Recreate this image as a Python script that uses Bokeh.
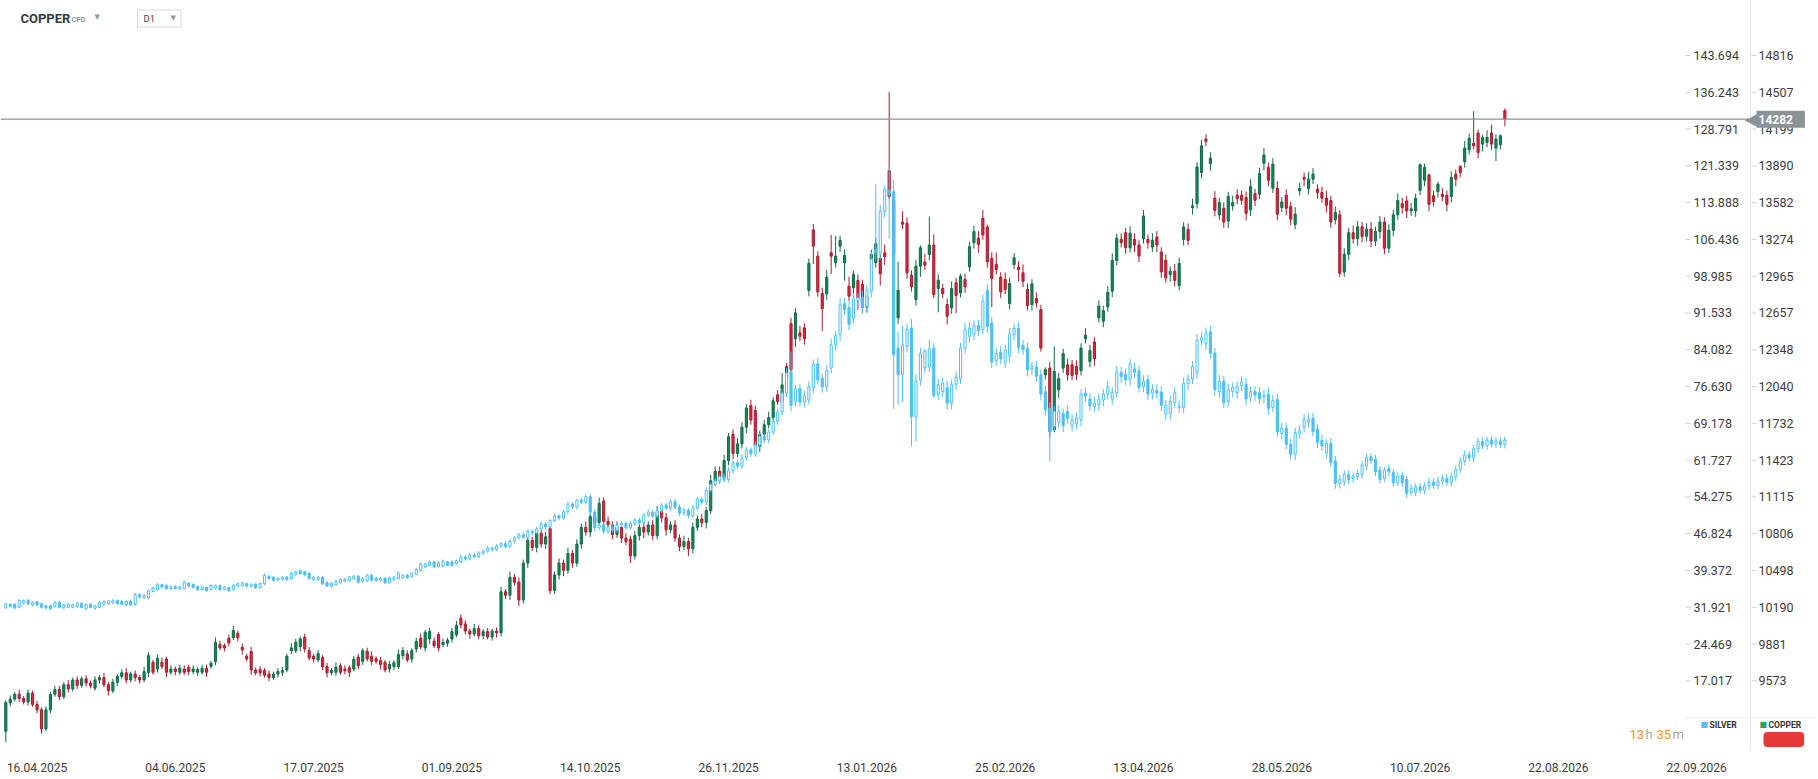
import numpy as np
from bokeh.plotting import figure
from bokeh.models import Range1d, FixedTicker, Span, Label, ColumnDataSource
from bokeh.core.properties import value
from bokeh.embed import file_html
from bokeh.resources import INLINE

# ---------------- data (daily bars) ----------------
SILVER_OPEN = [
    31.8, 32.5, 32.5, 31.9, 32.8, 33.3, 32.4, 33.0, 32.6, 32.2,
    32.2, 32.1, 32.9, 31.8, 31.9, 31.9, 32.1, 32.7, 31.6, 32.5,
    31.7, 31.9, 32.5, 32.6, 32.8, 33.3, 33.1, 32.4, 33.1, 32.5,
    34.5, 33.8, 33.8, 35.1, 35.5, 36.5, 36.3, 35.7, 36.1, 35.7,
    35.7, 36.8, 36.5, 36.1, 35.5, 35.9, 35.5, 35.8, 36.3, 35.5,
    35.9, 35.5, 36.2, 36.3, 36.7, 36.1, 36.6, 35.9, 36.7, 38.2,
    38.0, 37.4, 37.6, 38.0, 37.7, 38.6, 39.3, 39.1, 38.8, 37.5,
    37.5, 38.0, 36.9, 36.2, 36.5, 37.0, 37.2, 37.3, 37.7, 38.2,
    37.2, 37.3, 38.4, 37.8, 37.4, 37.8, 36.9, 37.5, 37.7, 37.9,
    38.4, 38.2, 38.6, 39.4, 40.1, 40.4, 41.1, 40.2, 40.3, 41.1,
    41.1, 40.7, 41.1, 42.1, 41.7, 42.5, 42.2, 42.9, 43.3, 43.9,
    43.6, 44.3, 44.8, 44.2, 45.3, 46.0, 46.6, 46.1, 47.3, 47.0,
    47.8, 48.8, 48.2, 49.5, 50.4, 50.0, 51.3, 52.8, 52.2, 53.6,
    53.2, 54.3, 51.2, 48.0, 48.6, 47.3, 48.2, 47.5, 48.6, 48.9,
    48.0, 48.9, 49.6, 49.0, 50.6, 51.2, 50.4, 51.5, 52.6, 52.0,
    53.3, 52.2, 51.0, 51.6, 50.5, 52.0, 53.8, 53.2, 55.6, 56.8,
    57.5, 58.4, 57.8, 59.6, 61.2, 60.5, 62.2, 63.8, 63.0, 64.8,
    66.5, 65.8, 67.4, 69.6, 71.5, 75.3, 79.7, 73.6, 76.2, 73.5,
    73.9, 76.3, 81.2, 78.3, 76.6, 80.4, 85.1, 87.1, 93.4, 92.6,
    90.5, 94.1, 94.7, 92.8, 95.9, 104.4, 103.7, 112.1, 116.4, 116.1,
    84.4, 79.0, 84.8, 88.5, 70.5, 78.0, 80.4, 80.6, 84.4, 75.1,
    75.6, 76.4, 73.3, 77.1, 78.2, 84.4, 86.8, 87.2, 89.0, 88.2,
    96.1, 89.5, 81.9, 83.6, 81.6, 82.9, 87.1, 88.4, 85.0, 84.3,
    80.2, 80.6, 79.0, 75.6, 72.2, 68.5, 69.4, 71.2, 71.6, 68.7,
    69.1, 69.9, 75.3, 74.1, 72.6, 72.9, 73.9, 75.1, 74.1, 75.4,
    79.5, 79.1, 78.1, 80.2, 79.8, 76.6, 78.0, 75.3, 75.8, 75.5,
    71.1, 71.1, 73.3, 72.4, 72.4, 77.2, 78.2, 79.4, 86.0, 85.3,
    87.7, 83.4, 75.6, 77.7, 73.6, 75.6, 75.4, 76.8, 77.1, 74.5,
    75.6, 75.4, 74.5, 75.1, 72.4, 74.0, 67.1, 68.2, 64.9, 62.9,
    67.1, 68.4, 69.4, 70.2, 68.0, 65.7, 63.2, 65.1, 61.6, 57.0,
    57.3, 58.8, 58.0, 58.4, 58.8, 60.5, 62.4, 61.9, 59.7, 58.0,
    60.0, 59.2, 57.1, 58.6, 57.8, 55.2, 55.2, 56.3, 55.6, 56.5,
    57.3, 56.6, 57.5, 58.0, 57.2, 58.4, 59.8, 61.5, 62.8, 62.2,
    64.0, 65.5, 64.6, 65.8, 65.0, 65.6, 64.9,
]
SILVER_CLOSE = [
    32.6, 32.1, 31.8, 33.3, 33.3, 32.6, 32.9, 32.4, 31.9, 31.8,
    31.6, 32.9, 31.9, 32.4, 32.5, 32.4, 32.8, 31.9, 32.5, 31.9,
    32.2, 32.9, 33.1, 33.2, 33.3, 32.7, 32.5, 33.1, 32.4, 34.5,
    34.0, 34.3, 35.3, 35.8, 36.5, 36.0, 35.7, 36.1, 35.7, 36.1,
    37.0, 36.2, 35.9, 35.5, 36.0, 35.3, 36.3, 36.3, 35.5, 36.0,
    35.3, 36.3, 36.7, 36.8, 36.2, 36.5, 35.9, 36.7, 38.4, 37.7,
    37.4, 37.8, 38.0, 37.5, 38.8, 39.1, 38.7, 38.5, 37.7, 38.0,
    38.0, 36.7, 36.2, 36.8, 37.2, 37.6, 37.6, 38.1, 38.2, 37.0,
    37.8, 38.4, 37.4, 37.3, 37.8, 36.9, 37.8, 38.0, 38.8, 38.4,
    37.9, 38.8, 39.6, 40.7, 40.7, 41.1, 40.1, 40.9, 41.3, 40.4,
    40.4, 41.4, 42.1, 41.7, 42.5, 42.2, 42.9, 43.3, 43.9, 43.6,
    44.3, 44.8, 44.2, 45.3, 46.0, 46.6, 46.1, 47.3, 47.0, 47.8,
    48.8, 48.2, 49.5, 50.4, 50.0, 51.3, 52.8, 52.2, 53.6, 53.2,
    54.3, 51.2, 48.0, 48.6, 47.3, 48.2, 47.5, 48.6, 48.9, 48.0,
    48.9, 49.6, 49.0, 50.6, 51.2, 50.4, 51.5, 52.6, 52.0, 53.3,
    52.2, 51.0, 51.6, 50.5, 52.0, 53.8, 53.2, 55.6, 56.8, 57.5,
    58.4, 57.8, 59.6, 61.2, 60.5, 62.2, 63.8, 63.0, 64.8, 66.5,
    65.8, 67.4, 69.6, 71.5, 75.3, 79.4, 72.8, 76.2, 73.5, 74.8,
    76.6, 81.2, 78.0, 76.6, 79.9, 85.1, 86.9, 93.2, 92.2, 89.2,
    94.4, 94.6, 92.7, 96.1, 102.4, 103.7, 112.2, 116.6, 115.6, 83.1,
    79.0, 85.1, 88.2, 70.5, 77.7, 83.3, 83.8, 84.3, 74.8, 77.0,
    77.3, 73.3, 77.1, 78.5, 84.4, 88.2, 88.5, 89.0, 87.9, 93.9,
    88.8, 81.6, 83.4, 82.2, 84.0, 87.3, 88.4, 84.6, 84.1, 80.0,
    80.7, 78.7, 75.1, 71.9, 67.5, 71.6, 71.6, 68.7, 70.2, 69.9,
    70.2, 75.1, 74.7, 72.7, 73.3, 74.1, 75.1, 76.6, 75.4, 79.5,
    78.6, 78.0, 81.2, 79.5, 76.4, 77.7, 75.1, 76.0, 75.3, 72.8,
    72.9, 73.6, 75.4, 72.7, 77.3, 78.2, 80.7, 86.0, 86.5, 87.5,
    83.3, 76.0, 77.7, 73.3, 76.0, 76.4, 76.6, 77.5, 74.1, 75.6,
    74.9, 74.1, 74.9, 72.2, 73.8, 67.5, 68.2, 64.9, 62.9, 67.3,
    67.7, 70.0, 70.0, 67.5, 65.3, 64.6, 65.1, 61.2, 57.0, 57.8,
    58.8, 57.8, 58.5, 59.0, 60.7, 62.2, 61.6, 59.4, 57.8, 59.7,
    59.4, 57.1, 58.5, 57.1, 55.0, 56.0, 56.3, 55.6, 56.5, 57.3,
    56.6, 57.5, 58.0, 57.2, 58.4, 59.8, 61.5, 62.8, 62.2, 64.0,
    65.5, 64.6, 65.8, 65.0, 65.6, 64.9, 65.8,
]
# wick lengths above / below the body, in tenths of a dollar
SILVER_WICK_UP = [
    2, 3, 2, 3, 2, 3, 2, 2, 3, 2,   3, 2, 3, 2, 3, 2, 2, 3, 2, 3,
    2, 3, 2, 2, 3, 2, 3, 2, 3, 3,   2, 3, 2, 3, 3, 2, 3, 2, 3, 2,
    3, 2, 3, 2, 3, 2, 3, 2, 2, 3,   2, 3, 2, 3, 2, 3, 2, 3, 4, 3,
    2, 3, 2, 3, 3, 2, 3, 2, 3, 2,   3, 2, 3, 2, 3, 2, 3, 2, 3, 3,
    2, 3, 3, 2, 3, 2, 3, 2, 3, 2,   3, 2, 3, 3, 2, 3, 2, 3, 3, 2,
    3, 2, 4, 3, 4, 3, 4, 3, 4, 3,   4, 3, 5, 4, 3, 4, 5, 3, 4, 4,
    5, 4, 3, 5, 4, 4, 5, 4, 3, 5,   4, 6, 5, 4, 5, 4, 5, 4, 5, 4,
    5, 4, 5, 4, 6, 5, 4, 5, 4, 5,   6, 5, 4, 5, 6, 5, 4, 6, 5, 6,
    5, 6, 7, 5, 6, 7, 6, 5, 7, 6,   7, 6, 8, 7, 9, 10, 40, 8, 9, 10,
    11, 9, 12, 10, 11, 12, 10, 14, 12, 13,   12, 10, 13, 11, 14, 132, 12, 7, 51, 24,
    34, 38, 12, 18, 14, 12, 5, 18, 11, 12,   12, 14, 10, 12, 11, 13, 12, 10, 12, 13,
    14, 12, 10, 13, 11, 12, 10, 13, 11, 12,   10, 12, 11, 13, 12, 11, 12, 10, 13, 11,
    12, 10, 11, 12, 13, 11, 10, 12, 11, 13,   11, 12, 10, 13, 11, 12, 10, 11, 13, 12,
    10, 12, 11, 13, 12, 10, 11, 13, 12, 11,   12, 10, 13, 11, 12, 10, 11, 12, 13, 10,
    11, 12, 10, 13, 11, 12, 10, 11, 12, 10,   11, 10, 12, 11, 10, 12, 9, 11, 10, 9,
    8, 9, 7, 8, 9, 8, 7, 9, 8, 7,   8, 7, 9, 8, 7, 8, 7, 8, 7, 9,
    7, 8, 7, 9, 8, 7, 8, 9, 7, 8,   7, 8, 7, 8, 7, 8, 7,
]
SILVER_WICK_DN = [
    2, 2, 3, 2, 3, 2, 3, 2, 2, 3,   2, 3, 2, 3, 2, 2, 3, 2, 3, 2,
    3, 2, 3, 2, 2, 3, 2, 3, 2, 3,   3, 2, 3, 2, 2, 3, 2, 3, 2, 3,
    2, 3, 2, 3, 2, 3, 2, 3, 3, 2,   3, 2, 3, 2, 3, 2, 3, 2, 3, 2,
    3, 2, 3, 2, 3, 3, 2, 3, 2, 3,   2, 3, 2, 3, 2, 3, 2, 3, 2, 3,
    3, 2, 3, 2, 3, 3, 2, 3, 2, 3,   2, 3, 2, 3, 3, 2, 3, 2, 3, 2,
    3, 3, 2, 4, 3, 4, 3, 4, 3, 4,   3, 4, 4, 3, 5, 4, 3, 4, 5, 3,
    4, 5, 4, 3, 5, 4, 5, 4, 5, 4,   5, 6, 8, 4, 5, 4, 5, 4, 5, 4,
    4, 5, 4, 5, 4, 5, 4, 5, 4, 5,   5, 6, 5, 6, 5, 4, 5, 6, 5, 4,
    6, 5, 6, 7, 5, 6, 5, 7, 6, 5,   6, 7, 6, 8, 7, 9, 12, 10, 9, 11,
    9, 11, 10, 12, 11, 10, 12, 13, 11, 12,   10, 12, 11, 13, 12, 14, 13, 12, 90, 110,
    60, 55, 13, 60, 50, 12, 11, 10, 5, 12,   11, 14, 13, 12, 10, 11, 13, 12, 11, 10,
    13, 12, 11, 10, 12, 13, 11, 12, 10, 13,   12, 11, 13, 12, 60, 11, 12, 13, 11, 12,
    11, 13, 12, 10, 11, 12, 13, 11, 12, 10,   12, 11, 13, 12, 10, 11, 12, 13, 11, 12,
    13, 12, 10, 11, 12, 13, 11, 12, 10, 12,   11, 13, 12, 10, 11, 12, 13, 11, 12, 10,
    12, 11, 13, 12, 10, 11, 12, 10, 11, 12,   10, 11, 12, 10, 11, 10, 12, 9, 11, 10,
    8, 9, 8, 7, 9, 8, 7, 9, 8, 7,   9, 8, 7, 8, 9, 7, 8, 7, 8, 9,
    7, 8, 9, 7, 8, 9, 7, 8, 7, 8,   8, 7, 8, 7, 8, 7, 8,
]

COPPER_OPEN = [
    9150, 9390, 9420, 9460, 9425, 9395, 9470, 9375, 9330, 9170,
    9330, 9460, 9500, 9440, 9540, 9505, 9580, 9535, 9590, 9555,
    9510, 9580, 9600, 9540, 9490, 9560, 9610, 9640, 9580, 9630,
    9600, 9580, 9644, 9728, 9672, 9728, 9756, 9644, 9672, 9644,
    9672, 9686, 9650, 9644, 9644, 9678, 9695, 9734, 9877, 9868,
    9930, 9935, 9972, 9854, 9779, 9818, 9664, 9666, 9660, 9630,
    9600, 9630, 9644, 9664, 9826, 9826, 9860, 9938, 9826, 9779,
    9748, 9767, 9692, 9640, 9644, 9700, 9672, 9683, 9672, 9770,
    9736, 9821, 9779, 9759, 9742, 9728, 9672, 9692, 9692, 9784,
    9798, 9756, 9840, 9930, 9849, 9924, 9905, 9961, 9877, 9888,
    9924, 9958, 10098, 10050, 9990, 9965, 10010, 9950, 9985, 9940,
    9990, 9975, 10320, 10290, 10440, 10400, 10250, 10560, 10750, 10690,
    10810, 10720, 10850, 10330, 10460, 10560, 10500, 10640, 10560, 10720,
    10860, 10820, 10950, 10900, 11080, 10910, 10880, 10800, 10860, 10770,
    10760, 10620, 10790, 10860, 10820, 10880, 10790, 10990, 10940, 10840,
    10880, 10770, 10700, 10740, 10680, 10860, 10930, 10900, 11000, 11250,
    11330, 11280, 11420, 11640, 11480, 11560, 11700, 11880, 11840, 11540,
    11640, 11720, 11780, 11971, 11915, 12209, 12568, 12442, 12490, 12532,
    12846, 13353, 13134, 12820, 12817, 13162, 13078, 13218, 13078, 12882,
    12868, 12930, 12896, 12705, 13115, 13078, 13115, 13162, 13849, 13600,
    12616, 13420, 13409, 12974, 12770, 13050, 13084, 13148, 13227, 12862,
    12862, 12728, 12700, 12910, 12826, 12938, 13044, 13246, 13283, 13451,
    13378, 13115, 13064, 12958, 12938, 12736, 13064, 13042, 12994, 12854,
    12728, 12778, 12686, 12139, 12195, 11677, 12013, 12195, 12223, 12223,
    12209, 12173, 12442, 12251, 12414, 12616, 12588, 12708, 12840, 13098,
    13274, 13330, 13204, 13274, 13227, 13280, 13274, 13210, 13294, 13168,
    13098, 12980, 13008, 12887, 13274, 13358, 13541, 13574, 13835, 14115,
    13911, 13619, 13479, 13535, 13429, 13555, 13644, 13644, 13625, 13521,
    13658, 13653, 13913, 13877, 13703, 13703, 13541, 13644, 13549, 13400,
    13681, 13793, 13700, 13779, 13695, 13667, 13620, 13600, 13440, 13480,
    13000, 13150, 13330, 13280, 13380, 13300, 13360, 13260, 13340, 13420,
    13200, 13350, 13480, 13574, 13597, 13513, 13513, 13686, 13770, 13815,
    13639, 13675, 13653, 13644, 13633, 13821, 13885, 13925, 14026, 14079,
    14166, 14073, 14087, 14166, 14040, 14068, 14353,
]
COPPER_CLOSE = [
    9390, 9420, 9460, 9425, 9395, 9470, 9375, 9330, 9170, 9330,
    9460, 9500, 9440, 9540, 9505, 9580, 9535, 9590, 9555, 9530,
    9580, 9600, 9540, 9490, 9560, 9610, 9640, 9580, 9630, 9600,
    9580, 9650, 9784, 9644, 9762, 9692, 9644, 9672, 9650, 9678,
    9644, 9650, 9672, 9667, 9678, 9644, 9720, 9896, 9849, 9849,
    9891, 9994, 9933, 9832, 9756, 9664, 9640, 9640, 9620, 9600,
    9630, 9650, 9658, 9779, 9849, 9896, 9924, 9840, 9765, 9756,
    9801, 9692, 9640, 9660, 9686, 9644, 9658, 9644, 9753, 9700,
    9826, 9756, 9736, 9736, 9709, 9664, 9711, 9725, 9793, 9826,
    9748, 9826, 9902, 9857, 9980, 9986, 9868, 9849, 9896, 9913,
    9986, 10036, 10042, 9990, 9965, 10010, 9950, 9985, 9940, 9990,
    9975, 10320, 10290, 10440, 10400, 10250, 10560, 10750, 10690, 10810,
    10720, 10780, 10330, 10460, 10560, 10500, 10640, 10560, 10720, 10860,
    10820, 10950, 10900, 11060, 10910, 10880, 10800, 10860, 10770, 10740,
    10620, 10790, 10860, 10820, 10880, 10790, 10990, 10940, 10840, 10880,
    10770, 10700, 10740, 10680, 10860, 10930, 10900, 11000, 11250, 11330,
    11280, 11420, 11620, 11480, 11560, 11700, 11860, 11760, 11540, 11640,
    11720, 11780, 11920, 11915, 12055, 12111, 12181, 12658, 12462, 12442,
    13073, 13218, 12834, 12694, 12958, 13134, 13134, 13266, 13140, 12798,
    12980, 12784, 12705, 12800, 13148, 13238, 12986, 13129, 13633, 13150,
    12846, 13401, 12994, 12876, 13050, 13204, 13058, 13227, 12812, 12932,
    12820, 12630, 12862, 12803, 12966, 12876, 13213, 13339, 13232, 13311,
    13087, 12946, 13022, 12834, 12854, 12904, 13120, 13022, 12924, 12719,
    12901, 12742, 12363, 12181, 11663, 12167, 12106, 12316, 12139, 12133,
    12144, 12363, 12470, 12341, 12274, 12714, 12677, 12831, 13098, 13283,
    13246, 13204, 13325, 13227, 13134, 13471, 13246, 13266, 13227, 13002,
    12952, 13008, 12930, 13072, 13378, 13266, 13555, 13882, 14059, 14096,
    13955, 13518, 13583, 13420, 13633, 13583, 13616, 13602, 13493, 13717,
    13602, 13826, 13981, 13770, 13905, 13485, 13588, 13535, 13443, 13485,
    13700, 13779, 13779, 13821, 13667, 13620, 13560, 13420, 13500, 12990,
    13150, 13330, 13280, 13380, 13300, 13360, 13260, 13340, 13420, 13200,
    13350, 13480, 13600, 13541, 13513, 13530, 13619, 13900, 13877, 13569,
    13591, 13737, 13633, 13569, 13793, 13779, 13835, 14040, 14121, 14059,
    14003, 14129, 14129, 14073, 14115, 14143, 14282,
]
# wick lengths above / below the body, in units of 10 USD
COPPER_WICK_UP = [
    2, 3, 2, 4, 2, 3, 2, 3, 2, 3,   2, 3, 3, 2, 4, 2, 3, 2, 3, 2,
    3, 2, 4, 2, 3, 2, 3, 4, 2, 3,   2, 4, 3, 2, 3, 4, 2, 3, 2, 3,
    3, 2, 3, 2, 3, 3, 2, 4, 3, 2,   3, 4, 2, 3, 2, 4, 2, 3, 2, 3,
    2, 3, 3, 2, 4, 3, 2, 3, 3, 2,   3, 2, 3, 2, 4, 2, 3, 2, 3, 3,
    2, 3, 4, 2, 3, 2, 3, 2, 4, 3,   3, 2, 3, 4, 2, 3, 3, 2, 3, 2,
    3, 4, 3, 3, 2, 4, 3, 2, 3, 2,   3, 4, 2, 5, 3, 4, 3, 5, 3, 4,
    3, 4, 5, 3, 4, 3, 5, 3, 4, 3,   5, 3, 4, 5, 3, 4, 3, 5, 3, 4,
    3, 4, 3, 5, 3, 4, 5, 3, 4, 3,   4, 3, 5, 3, 4, 3, 4, 3, 5, 4,
    4, 5, 3, 4, 5, 4, 3, 5, 4, 3,   4, 5, 3, 4, 10, 3, 5, 4, 6, 4,
    4, 5, 4, 5, 6, 15, 17, 4, 5, 8,   3, 5, 4, 5, 4, 5, 4, 7, 66, 6,
    24, 9, 5, 4, 5, 2, 7, 24, 9, 5,   4, 5, 6, 4, 2, 5, 4, 5, 6, 7,
    2, 5, 10, 4, 6, 5, 4, 5, 7, 5,   4, 5, 4, 2, 5, 21, 5, 4, 5, 4,
    5, 4, 6, 5, 4, 5, 4, 5, 6, 4,   5, 4, 6, 5, 4, 5, 4, 6, 5, 4,
    5, 4, 6, 5, 4, 5, 6, 4, 5, 4,   5, 6, 4, 5, 4, 6, 5, 4, 5, 6,
    4, 5, 6, 4, 5, 6, 4, 5, 4, 6,   5, 4, 6, 5, 4, 5, 6, 4, 5, 4,
    5, 4, 6, 5, 4, 5, 6, 4, 5, 4,   5, 4, 6, 5, 4, 5, 4, 1, 3, 1,
    4, 2, 5, 4, 5, 4, 1, 6, 4, 27,   3, 2, 6, 7, 4, 1, 2,
]
COPPER_WICK_DN = [
    9, 3, 2, 3, 2, 3, 2, 3, 4, 2,   3, 2, 3, 2, 3, 2, 3, 2, 3, 2,
    2, 3, 2, 4, 2, 3, 2, 3, 2, 3,   3, 2, 4, 2, 3, 2, 4, 2, 3, 2,
    2, 3, 2, 3, 2, 4, 2, 3, 2, 3,   3, 2, 3, 4, 2, 4, 2, 3, 2, 3,
    2, 3, 3, 2, 3, 2, 4, 3, 2, 3,   2, 3, 4, 2, 3, 2, 3, 4, 2, 3,
    3, 2, 3, 2, 4, 2, 3, 3, 2, 3,   2, 3, 3, 2, 3, 4, 2, 3, 2, 3,
    3, 2, 3, 3, 4, 2, 3, 3, 2, 3,   4, 3, 3, 4, 3, 5, 3, 4, 3, 4,
    3, 4, 3, 3, 4, 5, 3, 4, 3, 4,   3, 4, 3, 4, 5, 3, 4, 3, 4, 3,
    6, 3, 4, 5, 3, 4, 3, 4, 5, 3,   3, 4, 3, 6, 4, 3, 4, 5, 3, 4,
    5, 3, 4, 5, 3, 4, 5, 4, 3, 5,   4, 3, 5, 3, 4, 8, 4, 7, 4, 5,
    5, 15, 4, 19, 5, 15, 4, 5, 15, 4,   6, 10, 5, 4, 5, 4, 10, 7, 2, 5,
    5, 4, 5, 4, 5, 9, 4, 5, 3, 20,   4, 7, 5, 15, 4, 5, 4, 5, 7, 4,
    5, 24, 4, 5, 4, 5, 4, 10, 5, 4,   5, 4, 3, 4, 5, 2, 7, 4, 5, 4,
    5, 4, 4, 5, 6, 4, 5, 4, 5, 4,   4, 5, 4, 6, 5, 4, 5, 4, 6, 5,
    4, 6, 5, 4, 5, 4, 6, 4, 5, 4,   6, 5, 4, 5, 6, 4, 5, 4, 6, 5,
    5, 4, 6, 5, 4, 5, 4, 6, 5, 4,   4, 6, 5, 4, 5, 4, 6, 5, 4, 3,
    4, 5, 4, 6, 5, 4, 5, 4, 6, 5,   4, 5, 4, 5, 6, 4, 5, 4, 5, 6,
    4, 5, 4, 6, 5, 6, 4, 5, 4, 3,   5, 6, 4, 5, 11, 4, 6,
]

SILVER_TICK_LABELS = ["143.694", "136.243", "128.791", "121.339", "113.888", "106.436",
                      "98.985", "91.533", "84.082", "76.630", "69.178", "61.727",
                      "54.275", "46.824", "39.372", "31.921", "24.469", "17.017"]
COPPER_TICK_LABELS = ["14816", "14507", "14199", "13890", "13582", "13274", "12965",
                      "12657", "12348", "12040", "11732", "11423", "11115", "10806",
                      "10498", "10190", "9881", "9573"]
DATE_LABELS = ["16.04.2025", "04.06.2025", "17.07.2025", "01.09.2025", "14.10.2025",
               "26.11.2025", "13.01.2026", "25.02.2026", "13.04.2026", "28.05.2026",
               "10.07.2026", "22.08.2026", "22.09.2026"]
LAST_PRICE = 14282
INSTRUMENT = "COPPER"
SERIES_NAMES = ["SILVER", "COPPER"]

# ---------------- layout (page pixels) ----------------
W, H = 1816, 778
FRAME_BOTTOM = 750
BAR0_PX = 5.3
BAR_PX = 4.4615
TICK_TOP_PX = 55.0
TICK_BOTTOM_PX = 680.3
SCALE_EDGE_PX = 1750
DATE_BARS = [7 + 31 * k for k in range(len(DATE_LABELS))]   # one label every 31 bars

SILVER_C = "#4dc0f5"
UP_FILL, UP_LINE = "#16875a", "#0e6a45"
DN_FILL, DN_LINE = "#e0283c", "#a21c2c"
PRICE_GREY = "#8a9397"
TXT = "#3c3c3c"

s_ticks = [float(t) for t in SILVER_TICK_LABELS]
c_ticks = [int(t) for t in COPPER_TICK_LABELS]
per_px = (s_ticks[0] - s_ticks[-1]) / (TICK_BOTTOM_PX - TICK_TOP_PX)
s_end = s_ticks[0] + TICK_TOP_PX * per_px
s_start = s_ticks[0] - (FRAME_BOTTOM - TICK_TOP_PX) * per_px
ka = (c_ticks[0] - c_ticks[-1]) / (s_ticks[0] - s_ticks[-1])
kb = c_ticks[0] - ka * s_ticks[0]
c_start, c_end = ka * s_start + kb, ka * s_end + kb
x_start = -BAR0_PX / BAR_PX
x_end = (W - BAR0_PX) / BAR_PX


def px_x(px):
    return (px - BAR0_PX) / BAR_PX


def px_y(py):
    return s_end - py * per_px


N = min(len(SILVER_OPEN), len(SILVER_CLOSE), len(SILVER_WICK_UP), len(SILVER_WICK_DN),
        len(COPPER_OPEN), len(COPPER_CLOSE), len(COPPER_WICK_UP), len(COPPER_WICK_DN))
idx = np.arange(N)


def candles(o, c, wu, wd, unit):
    o = np.asarray(o[:N], float)
    c = np.asarray(c[:N], float)
    top = np.maximum(o, c)
    bot = np.minimum(o, c)
    hi = top + np.asarray(wu[:N], float) * unit
    lo = bot - np.asarray(wd[:N], float) * unit
    return top, bot, hi, lo, c >= o


p = figure(width=W, height=H, x_range=Range1d(x_start, x_end), y_range=Range1d(s_start, s_end),
           output_backend="svg", toolbar_location=None, tools="", y_axis_location=None,
           min_border_left=0, min_border_top=0, min_border_right=0,
           min_border_bottom=H - FRAME_BOTTOM, outline_line_color=None,
           background_fill_color="white", border_fill_color="white")
p.grid.visible = False
p.extra_y_ranges = {"copper": Range1d(c_start, c_end)}

# x axis (dates)
xa = p.xaxis[0]
xa.ticker = FixedTicker(ticks=DATE_BARS)
xa.major_label_overrides = {b: l for b, l in zip(DATE_BARS, DATE_LABELS)}
xa.axis_line_color = None
xa.major_tick_line_color = None
xa.minor_tick_line_color = None
xa.major_label_standoff = 6
xa.major_label_text_font = "Roboto"
xa.major_label_text_font_size = "12px"
xa.major_label_text_color = TXT

# separator of the price-scale column and of the legend strip
p.add_layout(Span(location=px_x(SCALE_EDGE_PX), dimension="height",
                  line_color="#e6e6e6", line_width=1))
p.segment(x0=[px_x(1683)], y0=[px_y(717)], x1=[px_x(W)], y1=[px_y(717)],
          line_color="#f0f0f0", line_width=1)

# copper candles
ct, cb, ch, cl, cup = candles(COPPER_OPEN, COPPER_CLOSE, COPPER_WICK_UP, COPPER_WICK_DN, 10.0)
csrc = ColumnDataSource(dict(x=idx, top=ct, bottom=cb, hi=ch, lo=cl,
                             fill=[UP_FILL if u else DN_FILL for u in cup],
                             line=[UP_LINE if u else DN_LINE for u in cup]))
p.segment(x0="x", y0="hi", x1="x", y1="lo", line_color="line", line_width=1,
          source=csrc, y_range_name="copper")
p.vbar(x="x", top="top", bottom="bottom", width=0.48, fill_color="fill", line_color="line",
       line_width=1, source=csrc, y_range_name="copper")

# silver candles (hollow when rising)
st, sb, sh, sl, sup = candles(SILVER_OPEN, SILVER_CLOSE, SILVER_WICK_UP, SILVER_WICK_DN, 0.1)
ssrc = ColumnDataSource(dict(x=idx, top=st, bottom=sb, hi=sh, lo=sl,
                             fill=["white" if u else SILVER_C for u in sup]))
p.segment(x0="x", y0="hi", x1="x", y1="lo", line_color=SILVER_C, line_width=1, source=ssrc)
p.vbar(x="x", top="top", bottom="bottom", width=0.48, fill_color="fill", line_color=SILVER_C,
       line_width=1, source=ssrc)

# price scales: silver (inner column) and copper (outer column)
ns = len(s_ticks)
p.text(x=[px_x(1693)] * ns, y=s_ticks, text=SILVER_TICK_LABELS,
       text_font=value("Roboto"), text_font_size="12.5px", text_color=TXT,
       text_baseline="middle", text_align="left")
p.segment(x0=[px_x(1685)] * ns, y0=s_ticks, x1=[px_x(1690)] * ns, y1=s_ticks,
          line_color="#d2d2d2", line_width=1)
nc = len(c_ticks)
p.text(x=[px_x(1758)] * nc, y=c_ticks, text=COPPER_TICK_LABELS, y_range_name="copper",
       text_font=value("Roboto"), text_font_size="12.5px", text_color=TXT,
       text_baseline="middle", text_align="left")
p.segment(x0=[px_x(1751)] * nc, y0=c_ticks, x1=[px_x(1756)] * nc, y1=c_ticks,
          y_range_name="copper", line_color="#d2d2d2", line_width=1)

# last price line and tag
p.segment(x0=[x_start], y0=[LAST_PRICE], x1=[px_x(1748)], y1=[LAST_PRICE],
          y_range_name="copper", line_color=PRICE_GREY, line_width=1.3)
p.add_layout(Label(x=px_x(1757), y=LAST_PRICE, y_range_name="copper", text="\u25c0",
                   text_font="DejaVu Sans", text_font_size="17px", text_color=PRICE_GREY,
                   text_baseline="middle", text_align="right"))
p.add_layout(Label(x=px_x(1756), y=LAST_PRICE, y_range_name="copper", text=str(LAST_PRICE),
                   text_font="Roboto", text_font_style="bold", text_font_size="12px",
                   text_color="white", text_baseline="middle", text_align="left",
                   background_fill_color=PRICE_GREY, padding=(2, 12, 4, 4)))


def lab(px, py, text, size, color, style="normal", font="Roboto", **kw):
    p.add_layout(Label(x=px_x(px), y=px_y(py), text=text, text_font=font,
                       text_font_size=size, text_color=color, text_font_style=style,
                       text_baseline="middle", text_align="left", **kw))


# header
lab(20, 17.5, INSTRUMENT, "13px", "#333d43", "bold")
lab(71, 18.5, "CFD", "7.5px", "#8d979c", "bold")
lab(94, 16, "\u25bc", "7px", "#8d979c", font="DejaVu Sans")
lab(137, 18, "D1", "9.5px", "#444444", border_line_color="#d9d9d9",
    background_fill_color="white", padding=(6, 26, 3, 3))
lab(170, 17, "\u25bc", "7px", "#8d979c", font="DejaVu Sans")

# countdown
lab(1629, 734, "13", "13px", "#f7931e")
lab(1645, 734, "h", "13px", "#aaaaaa")
lab(1656, 734, "35", "13px", "#f7931e")
lab(1672, 734, "m", "13px", "#aaaaaa")

# series legend
lab(1700, 724, "\u25a0", "8px", SILVER_C, font="DejaVu Sans")
lab(1709, 724, SERIES_NAMES[0], "8.5px", "#333333", "bold")
lab(1759, 724, "\u25a0", "8px", "#21a366", font="DejaVu Sans")
lab(1768, 724, SERIES_NAMES[1], "8.5px", "#333333", "bold")
lab(1763, 739, "\u2003\u2003\u2003\u2003", "8px", "#e53935",
    background_fill_color="#e53935", padding=(4, 4, 3, 3), border_radius=4)

open("out.html", "w").write(file_html(p, INLINE, title="COPPER"))
